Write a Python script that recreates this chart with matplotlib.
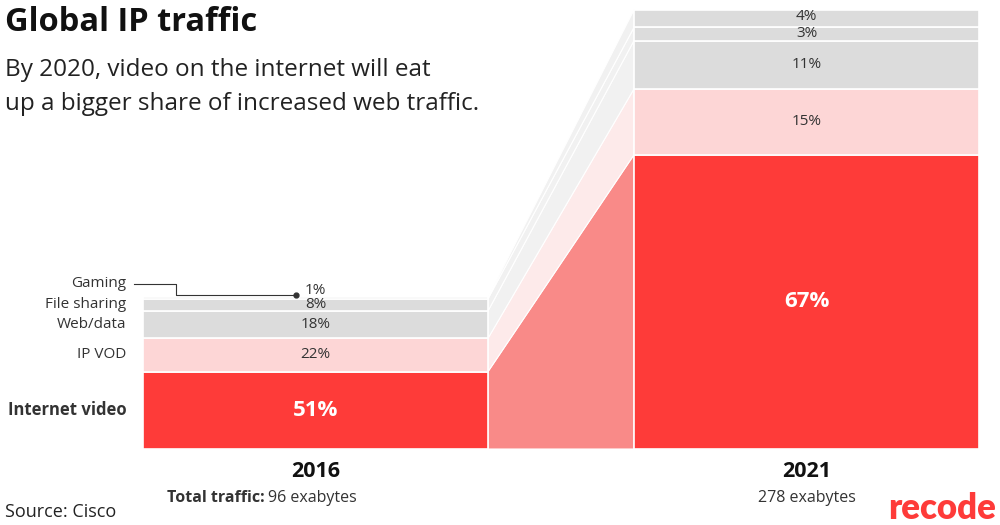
import matplotlib.pyplot as plt

years = ["2016", "2021"]
totals = [96, 278]
categories = ["Internet video", "IP VOD", "Web/data", "File sharing", "Gaming"]
share_2016 = [51, 22, 18, 8, 1]
share_2021 = [67, 15, 11, 3, 4]

bar_colors = ["#fe3b39", "#fdd6d6", "#dcdcdc", "#dcdcdc", "#dcdcdc"]
link_colors = ["#f98a88", "#fdeaea", "#f1f1f1", "#f1f1f1", "#f1f1f1"]

FONT = "Open Sans"
plt.rcParams["font.family"] = [FONT, "DejaVu Sans"]


def stacks(total, shares):
    bottoms, tops = [], []
    acc = 0.0
    for s in shares:
        bottoms.append(total * acc / 100)
        acc += s
        tops.append(total * acc / 100)
    return bottoms, tops


fig = plt.figure(figsize=(10, 5.25), dpi=100)
ax = fig.add_axes([0, 0, 1, 1])
ax.set_axis_off()

width = 0.7026
px_per_unit = 1.58
ax.set_xlim(-0.6426, 1.394)
ax.set_ylim(-76 / px_per_unit, -76 / px_per_unit + 525 / px_per_unit)

b16, t16 = stacks(totals[0], share_2016)
b21, t21 = stacks(totals[1], share_2021)

# connectors between the two bars
xa = 0 + width / 2
xb = 1 - width / 2
for i in range(len(categories)):
    ax.fill([xa, xb, xb, xa], [b16[i], b21[i], t21[i], t16[i]],
            color=link_colors[i], ec="white", lw=0.8, zorder=1)

# stacked bars
for xi, (bots, tops) in enumerate([(b16, t16), (b21, t21)]):
    heights = [t - b for b, t in zip(bots, tops)]
    ax.bar([xi] * len(categories), heights, bottom=bots, width=width,
           color=bar_colors, edgecolor="white", linewidth=1.2, zorder=2)

# segment labels
label_color = "#333333"
for xi, (bots, tops, shares) in enumerate([(b16, t16, share_2016), (b21, t21, share_2021)]):
    for i, s in enumerate(shares):
        mid = (bots[i] + tops[i]) / 2
        if i == 0:
            ax.text(xi, mid, f"{s}%", ha="center", va="center", color="white",
                    fontsize=16, fontweight="bold", zorder=3)
        elif xi == 0 and categories[i] == "Gaming":
            ax.text(xi, tops[i] + 4.5, f"{s}%", ha="center", va="center",
                    color=label_color, fontsize=11, zorder=3)
        else:
            off = 1.0 if (xi == 1 and categories[i] == "Gaming") else 0
            ax.text(xi, mid + off, f"{s}%", ha="center", va="center",
                    color=label_color, fontsize=11, zorder=3)

# category labels on the left
label_x = -0.385
for i, cat in enumerate(categories):
    mid = (b16[i] + t16[i]) / 2
    y = t16[i] + 8.5 if cat == "Gaming" else mid
    ax.text(label_x, y, cat, ha="right", va="center", color="#333333",
            fontsize=12 if i == 0 else 11, fontweight="bold" if i == 0 else "normal")

# leader line for Gaming
gy = t16[-1] + 8.5
ax.plot([-0.37, -0.285, -0.285, -0.04], [gy, gy, t16[-1] + 1.5, t16[-1] + 1.5],
        color="#333333", lw=0.8, zorder=4)
ax.plot([-0.04], [t16[-1] + 1.5], "o", color="#333333", ms=3.5, zorder=4)

# year labels
for xi, yr in enumerate(years):
    ax.text(xi, -14, yr, ha="center", va="center", fontsize=15.5,
            fontweight="bold", color="#111111")
ax.text(-0.103, -31, "Total traffic:", ha="right", va="center", fontsize=11.5,
        fontweight="bold", color="#333333")
ax.text(-0.097, -31, f"{totals[0]} exabytes", ha="left", va="center",
        fontsize=11.5, color="#333333")
ax.text(1, -31, f"{totals[1]} exabytes", ha="center", va="center",
        fontsize=11.5, color="#333333")

# titles and footer
fig.text(0.005, 0.958, "Global IP traffic", fontsize=23.5, fontweight="bold",
         color="#111111", va="center", ha="left")
fig.text(0.005, 0.866, "By 2020, video on the internet will eat", fontsize=17.5,
         color="#222222", va="center", ha="left")
fig.text(0.005, 0.802, "up a bigger share of increased web traffic.", fontsize=17.5,
         color="#222222", va="center", ha="left")
fig.text(0.005, 0.025, "Source: Cisco", fontsize=13, color="#222222",
         va="center", ha="left")
fig.text(0.996, 0.032, "recode", fontsize=25, fontweight="heavy", family="Lato",
         color="#fe3b39", va="center", ha="right")

fig.savefig("out.png", dpi=100)
